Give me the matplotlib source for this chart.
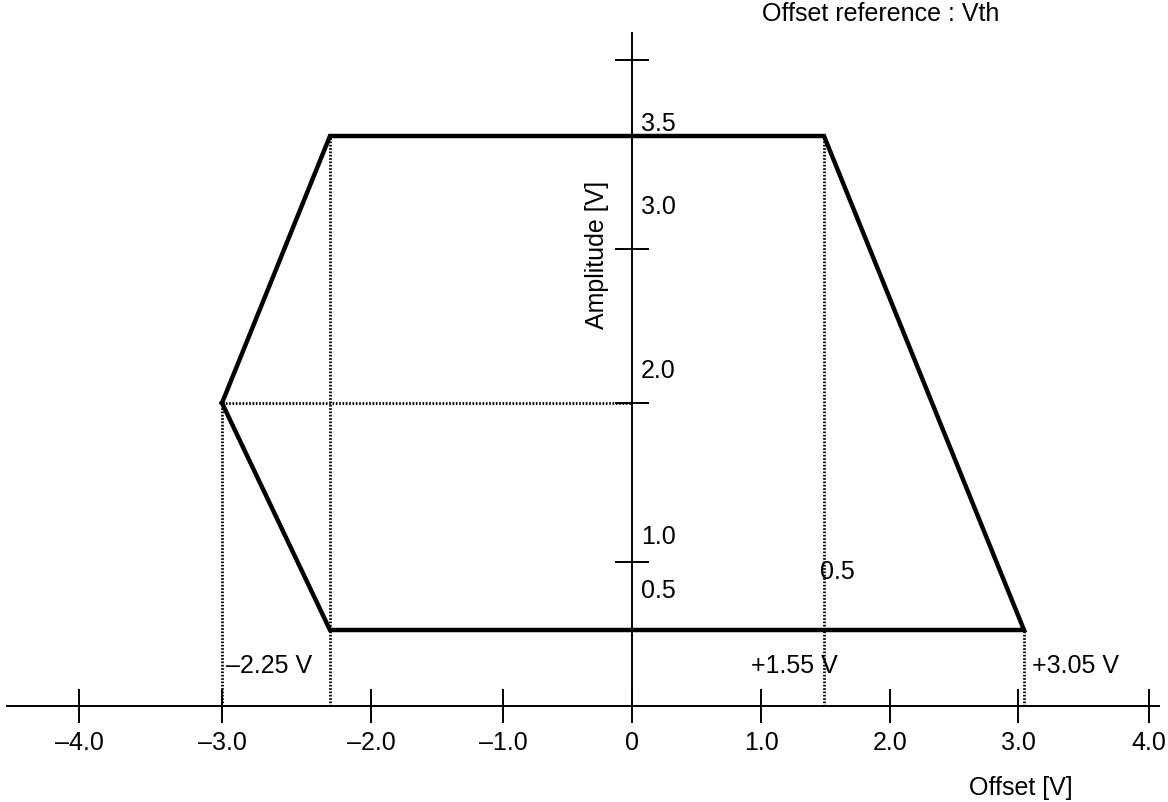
import numpy as np
import matplotlib
matplotlib.use("Agg")
import matplotlib.pyplot as plt

plt.rcParams["font.family"] = ["Liberation Sans", "DejaVu Sans"]
plt.rcParams["font.size"] = 18

# Operating region outline (offset [V], amplitude [V]), closed loop
offset_v = [-3.0, -2.25, 1.55, 3.05, -2.25, -3.0]
amplitude_v = [2.0, 3.5, 3.5, 0.5, 0.5, 2.0]

# Axis ticks and labels
x_ticks = [-4.0, -3.0, -2.0, -1.0, 0.0, 1.0, 2.0, 3.0, 4.0]
x_tick_labels = ["\u20134.0", "\u20133.0", "\u20132.0", "\u20131.0", "0",
                 "1.0", "2.0", "3.0", "4.0"]
y_ticks = [1.0, 2.0, 3.0, 4.0]
y_label_values = [3.5, 3.0, 2.0, 1.0, 0.5]
y_label_texts = ["3.5", "3.0", "2.0", "1.0", "0.5"]

# Corner offsets called out along the offset axis
corner_offsets = [-2.25, 1.55, 3.05]
corner_texts = ["\u20132.25 V", "+1.55 V", "+3.05 V"]

# Schematic (unevenly spaced) axes: value stops and their pixel positions
W, H = 1168, 803
x_stop_val = np.array([-4.55, -4.0, -3.0, -2.25, -2.0, -1.0, 0.0, 1.0, 1.55, 2.0, 3.0, 3.05, 4.0, 4.15])
x_stop_px = np.array([0, 79, 222, 330, 371, 503, 632, 761, 824, 890, 1018, 1024, 1149, 1168], float)
y_stop_val = np.array([-0.63, 0.0, 0.5, 1.0, 2.0, 3.0, 3.5, 4.0, 4.4])
y_stop_px = H - np.array([803, 707, 631, 563, 404, 250, 137, 61, 0], float)


def fwd_x(v):
    return np.interp(v, x_stop_val, x_stop_px)


def inv_x(p):
    return np.interp(p, x_stop_px, x_stop_val)


def fwd_y(v):
    return np.interp(v, y_stop_val, y_stop_px)


def inv_y(p):
    return np.interp(p, y_stop_px, y_stop_val)


fig = plt.figure(figsize=(W / 100, H / 100), dpi=100)
ax = fig.add_axes([0, 0, 1, 1])
ax.set_xscale("function", functions=(fwd_x, inv_x))
ax.set_yscale("function", functions=(fwd_y, inv_y))
ax.set_xlim(x_stop_val[0], x_stop_val[-1])
ax.set_ylim(y_stop_val[0], y_stop_val[-1])
ax.patch.set_visible(False)

# Cross-shaped axes through the origin
for side in ("top", "right"):
    ax.spines[side].set_visible(False)
ax.spines["bottom"].set_position(("data", 0))
ax.spines["left"].set_position(("data", 0))
ax.spines["bottom"].set_bounds(-4.5, 4.08)
ax.spines["left"].set_bounds(0, 4.18)
for side in ("bottom", "left"):
    ax.spines[side].set_linewidth(1.4)

ax.xaxis.set_minor_locator(matplotlib.ticker.NullLocator())
ax.yaxis.set_minor_locator(matplotlib.ticker.NullLocator())
ax.set_xticks(x_ticks, x_tick_labels)
ax.set_yticks(y_ticks, [""] * len(y_ticks))
ax.tick_params(axis="both", direction="inout", length=24.5, width=1.4,
               pad=5, labelsize=18)

# Guide lines from the corners down to the axes
dot = dict(color="black", lw=2.0, linestyle=(0, (0.6, 0.6)), zorder=2)
ax.plot([offset_v[0], offset_v[0]], [0, amplitude_v[0]], **dot)
ax.plot([offset_v[0], 0], [amplitude_v[0], amplitude_v[0]], **dot)
ax.plot([offset_v[1], offset_v[1]], [0, amplitude_v[1]], **dot)
ax.plot([offset_v[2], offset_v[2]], [0, amplitude_v[2]], **dot)
ax.plot([offset_v[3], offset_v[3]], [0, amplitude_v[3]], **dot)

# Region outline
ax.plot(offset_v, amplitude_v, color="black", lw=3.2,
        solid_joinstyle="miter", zorder=3)

# Amplitude values written beside the vertical axis
y_text_dy = [13, 43, 33, 26, 40]
for v, t, dy in zip(y_label_values, y_label_texts, y_text_dy):
    ax.annotate(t, xy=(0, v), xytext=(9, dy), textcoords="offset pixels",
                ha="left", va="center")

# Offset values of the corners
ax.annotate(corner_texts[0], xy=(-3.0, 0), xytext=(4, 41),
            textcoords="offset pixels", ha="left", va="center")
ax.annotate(corner_texts[1], xy=(corner_offsets[1], 0), xytext=(-30, 41),
            textcoords="offset pixels", ha="center", va="center")
ax.annotate(corner_texts[2], xy=(corner_offsets[2], 0), xytext=(8, 41),
            textcoords="offset pixels", ha="left", va="center")
ax.annotate("0.5", xy=(corner_offsets[1], 0.5), xytext=(-4, 59),
            textcoords="offset pixels", ha="left", va="center")

ax.set_xlabel("Offset [V]")
ax.xaxis.label.set(va="center", ha="center")
ax.xaxis.set_label_coords(1021 / W, 1 - 788 / H)
ax.set_ylabel("Amplitude [V]")
ax.yaxis.label.set(va="center", ha="center")
ax.yaxis.set_label_coords(597 / W, 1 - 255 / H)

fig.text(881 / W, 1 - 14 / H, "Offset reference : Vth", ha="center", va="center")

fig.savefig("out.png", dpi=100)
